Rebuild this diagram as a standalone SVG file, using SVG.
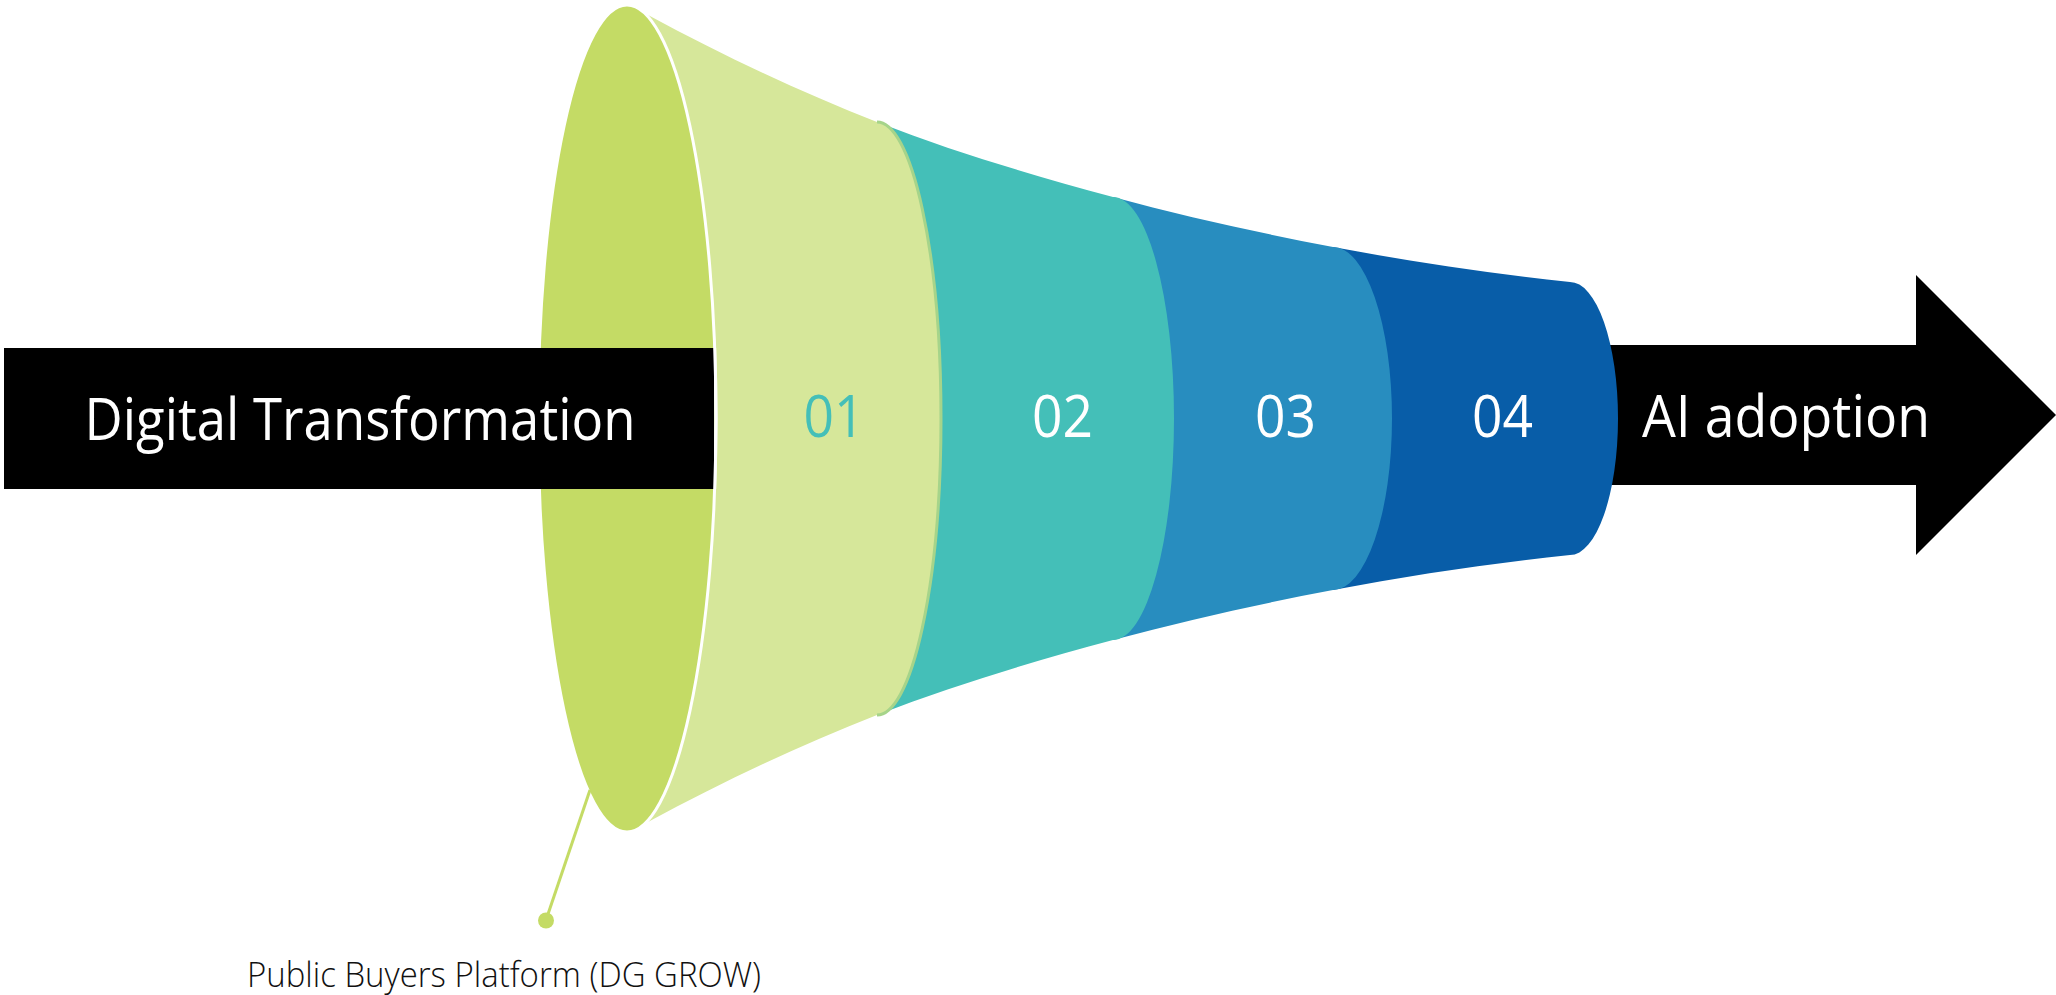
<svg xmlns="http://www.w3.org/2000/svg" width="2056" height="995" viewBox="0 0 2056 995">
<style>
.big{font-family:"Open Sans","Liberation Sans",sans-serif;font-size:58px;fill:#ffffff;text-anchor:middle}
.num{font-family:"Open Sans","Liberation Sans",sans-serif;font-size:58px;text-anchor:middle}
.lbl{font-family:"Open Sans","Liberation Sans",sans-serif;font-size:34px;font-weight:300;fill:#111111}
</style>
<rect x="0" y="0" width="2056" height="995" fill="#ffffff"/>
<g id="ai-adoption">
<polygon points="1590,345 1916,345 1916,275 2056,415 1916,555 1916,485 1590,485" fill="#000000"/>
<text class="big" x="1786" y="437" textLength="288" lengthAdjust="spacingAndGlyphs">AI adoption</text>
</g>
<g id="stage-04">
<path d="M1333,247 C1412,262 1491,273.3 1570,282 A48 136.5 0 0 1 1570,555 C1491,563.7 1412,575 1333,590 Z" fill="#085DA8"/>
<text class="num" x="1502.5" y="437" fill="#ffffff" textLength="61" lengthAdjust="spacingAndGlyphs">04</text>
</g>
<g id="stage-03">
<path d="M1113,197 C1186.3,216.8 1259.7,233.1 1333,247 A59 171.5 0 0 1 1333,590 C1259.7,603.9 1186.3,620.2 1113,640 Z" fill="#288DBF"/>
<text class="num" x="1285.5" y="437" fill="#ffffff" textLength="61" lengthAdjust="spacingAndGlyphs">03</text>
</g>
<g id="stage-02">
<path d="M877,122 C955.7,152.7 1034.3,175.8 1113,197 A61 221.5 0 0 1 1113,640 C1034.3,661.2 955.7,684.3 877,715 Z" fill="#44BFB8"/>
<text class="num" x="1062.5" y="437" fill="#ffffff" textLength="61" lengthAdjust="spacingAndGlyphs">02</text>
</g>
<g id="stage-01">
<path d="M648,15 C724.3,56.2 800.7,92.2 877,122 A64 296.5 0 0 1 877,715 C800.7,744.8 724.3,780.8 648,822 Z" fill="#D6E79A"/>
<path d="M877,122 A64 296.5 0 0 1 877,715" fill="none" stroke="#A6D48A" stroke-width="3"/>
<text class="num" x="834" y="437" fill="#44BFB8" textLength="61" lengthAdjust="spacingAndGlyphs">01</text>
</g>
<g id="public-buyers-platform">
<ellipse cx="627" cy="418.5" rx="89" ry="413.5" fill="#C4DB65" stroke="#ffffff" stroke-width="3"/>
<text class="lbl" x="247" y="987" textLength="514" lengthAdjust="spacingAndGlyphs">Public Buyers Platform (DG GROW)</text>
</g>
<g id="digital-transformation">
<rect x="4" y="348" width="710" height="141" fill="#000000"/>
<path d="M714.7,348 A89 413.5 0 0 1 714.7,489" fill="none" stroke="#ffffff" stroke-width="3"/>
<text class="big" x="360" y="440" textLength="551" lengthAdjust="spacingAndGlyphs">Digital Transformation</text>
</g>
<g id="connectors">
<line x1="546" y1="920" x2="590" y2="790" stroke="#C4DB65" stroke-width="3"/>
<circle cx="546" cy="920.5" r="8" fill="#C4DB65"/>
</g>
</svg>
